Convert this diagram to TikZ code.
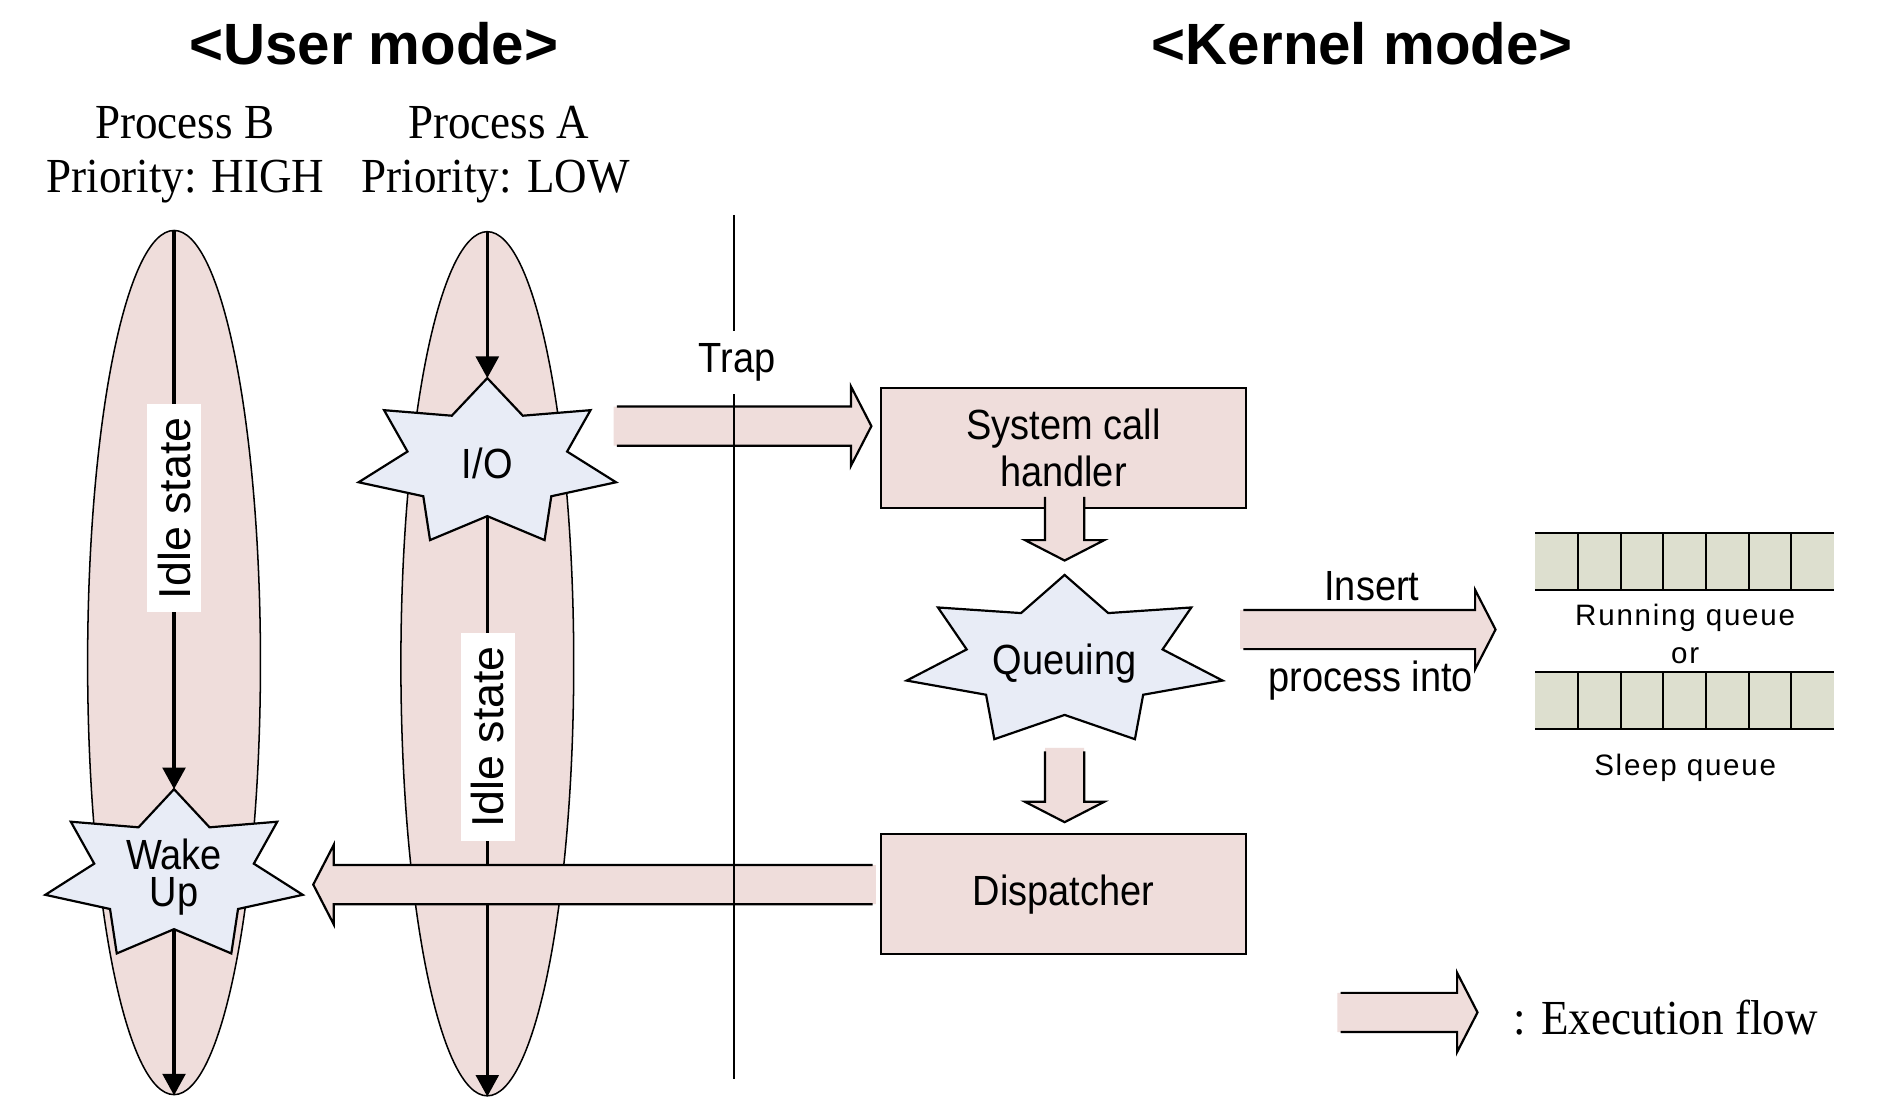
\documentclass[tikz,border=0pt]{standalone}
\usepackage{fontspec}
\setmainfont{Liberation Sans}
\newfontfamily\lblfont{Liberation Sans}[FakeStretch=0.9]
\newfontfamily\plainsans{Liberation Sans}
\newfontfamily\tmfont{Liberation Serif}[FakeStretch=0.92]
\newfontfamily\qfont{Liberation Sans}[LetterSpace=6]
\newfontfamily\ttlfont{Liberation Sans}
\usetikzlibrary{shapes.geometric,arrows.meta,calc}
\definecolor{flowpink}{RGB}{239,221,219}
\definecolor{starblue}{RGB}{232,236,246}
\definecolor{qgreen}{RGB}{221,223,207}
\newcommand\pxu{0.025cm}
% block arrow (execution flow) from #1 (open tail) to #2 (tip)
\newcommand\flowarrow[2]{%
  \fill[flowpink] let \p1=(#1), \p2=(#2), \n1={atan2(\y2-\y1,\x2-\x1)}, \n2={veclen(\x2-\x1,\y2-\y1)} in
    {[shift={(\p1)}, rotate=\n1]
     (-2pt,-11.6pt) -- (\n2-12.1pt,-11.6pt) -- (\n2-12.1pt,-23.5pt) -- (\n2+0pt,0pt)
     -- (\n2-12.1pt,23.5pt) -- (\n2-12.1pt,11.6pt) -- (-2pt,11.6pt) -- cycle};
  \draw[blockline] let \p1=(#1), \p2=(#2), \n1={atan2(\y2-\y1,\x2-\x1)}, \n2={veclen(\x2-\x1,\y2-\y1)} in
    {[shift={(\p1)}, rotate=\n1]
     (0pt,-11.6pt) -- (\n2-12.1pt,-11.6pt) -- (\n2-12.1pt,-23.5pt) -- (\n2+0pt,0pt)
     -- (\n2-12.1pt,23.5pt) -- (\n2-12.1pt,11.6pt) -- (0pt,11.6pt)};
}
% seven-pointed star: centre x, centre y, radius x, radius y
\newcommand\drawstar[4]{%
  \draw[starstyle] plot[samples at={0,...,13}, variable=\k]
    ({#1+(1-0.38*mod(\k,2))*#3*cos(90+\k*360/14)}, {#2-(1-0.38*mod(\k,2))*#4*sin(90+\k*360/14)}) -- cycle;
}
\begin{document}
\begin{tikzpicture}[x=0.025cm, y=-0.025cm,
  lbl/.style={font=\lblfont\fontsize{25pt}{28pt}\selectfont, inner sep=0pt},
  tlbl/.style={font=\tmfont\fontsize{29pt}{33pt}\selectfont, inner sep=0pt},
  ttl/.style={font=\ttlfont\bfseries\fontsize{34.5pt}{40pt}\selectfont, inner sep=0pt},
  qlbl/.style={font=\qfont\fontsize{17.5pt}{20pt}\selectfont, inner sep=0pt},
  ellproc/.style={ellipse, draw, fill=flowpink, line width=0.9pt, inner sep=0pt,
    minimum width=144*\pxu, minimum height=720*\pxu},
  procline/.style={line width=1.9pt, -{Triangle[length=12.8pt,width=13.5pt]}},
  idlebox/.style={rotate=90, fill=white, inner sep=0pt, minimum width=173*\pxu,
    minimum height=45*\pxu, font=\plainsans\fontsize{26.5pt}{30pt}\selectfont},
  starstyle/.style={draw, fill=starblue, line width=1.3pt, line join=miter},
  procbox/.style={rectangle, draw, fill=flowpink, line width=1.2pt, inner sep=0pt,
    minimum width=304*\pxu, minimum height=100*\pxu, align=center,
    font=\lblfont\fontsize{25pt}{27.7pt}\selectfont},
  blockline/.style={draw, line width=1.3pt, line join=miter},
  qrow/.style={rectangle, fill=qgreen, inner sep=0pt, outer sep=0pt,
    minimum width=249*\pxu, minimum height=47.5*\pxu},
  qline/.style={line width=1.2pt},
  sepline/.style={line width=1.2pt}
]
\useasboundingbox (0,0) rectangle (1568,915);
\fill[white] (0,0) rectangle (1568,915);

% titles
\node[ttl, anchor=base] (usermode) at (311.5,54) {<User mode>};
\node[ttl, anchor=base] (kernelmode) at (1135,54) {<Kernel mode>};
\node[tlbl, anchor=base] (procB) at (154,115) {Process B};
\node[tlbl, anchor=base] (prioB) at (154.5,160.5) {Priority: HIGH};
\node[tlbl, anchor=base] (procA) at (415.5,115) {Process A};
\node[tlbl, anchor=base] (prioA) at (413,160.5) {Priority: LOW};

% process ellipses
\node[ellproc] (ellB) at (145,552) {};
\node[ellproc] (ellA) at (406,553) {};
\coordinate (wakeC) at (145,729.5);
\coordinate (ioC) at (406,386);
\coordinate (wakeTop) at (145,657.5);
\coordinate (ioTop) at (406,315);
\draw[procline] (ellB.north) -- (wakeTop);
\draw[procline] (wakeC) -- (ellB.south);
\draw[procline] (ellA.north) -- (ioTop);
\draw[procline] (ioC) -- (ellA.south);
\node[idlebox] (idleB) at (145,423.5) {Idle state};
\node[idlebox] (idleA) at (406.5,614) {Idle state};

% stars
\drawstar{406}{386}{110}{71}
\drawstar{145}{729.5}{110}{72}
\drawstar{887}{551}{135}{72}
\node[lbl] (io) at (ioC) {I/O};
\node[lbl, align=center, font=\lblfont\fontsize{25pt}{22pt}\selectfont] (wake) at (145,731) {Wake\\Up};
\node[lbl] (queuing) at (887,553) {Queuing};

% kernel boxes
\node[procbox] (handler) at (886,373) {System call\\handler};
\node[procbox] (dispatch) at (886,745) {Dispatcher};

% execution flow arrows
\coordinate (trapS) at (514,355);
\coordinate (trapE) at (726,355);
\flowarrow{trapS}{trapE}
\coordinate (wkS) at (727,737);
\coordinate (wkE) at (261,737);
\flowarrow{wkS}{wkE}
\coordinate (d1S) at (887,414);
\coordinate (d1E) at (887,467);
\flowarrow{d1S}{d1E}
\coordinate (d2S) at (887,626);
\coordinate (d2E) at (887,685);
\flowarrow{d2S}{d2E}
\coordinate (insS) at (1036,524.5);
\coordinate (insE) at (1246,524.5);
\flowarrow{insS}{insE}
\node[lbl, anchor=base] (insert) at (1143,500) {Insert};
\node[lbl, anchor=base] (procinto) at (1142,576) {process into};

% queues
\node[qrow] (runq) at (1403.5,467.5) {};
\node[qrow] (sleepq) at (1403.5,584) {};
\foreach \q in {runq,sleepq}{
  \draw[qline] (\q.north west) -- (\q.north east) (\q.south west) -- (\q.south east);
  \foreach \i in {1,...,6}
    \draw[qline] ($(\q.north west)!\i/7!(\q.north east)$) -- ($(\q.south west)!\i/7!(\q.south east)$);
}
\node[qlbl, anchor=base] (runlbl) at (1404,521) {Running queue};
\node[qlbl, anchor=base] (orlbl) at (1404,552.5) {or};
\node[qlbl, anchor=base] (sleeplbl) at (1404,646) {Sleep queue};

% user/kernel separator
\coordinate (sepTop) at (611.5,179);
\coordinate (sepBot) at (611.5,899);
\node[lbl, anchor=base, inner ysep=7.5pt] (trap) at (614,310.5) {Trap};
\draw[sepline] (sepTop) -- (sepTop |- trap.north);
\draw[sepline] (sepTop |- trap.south) -- (sepBot);

% legend
\coordinate (legS) at (1117,843.5);
\coordinate (legE) at (1231,843.5);
\flowarrow{legS}{legE}
\node[tlbl, anchor=base west] (legtxt) at (1261,862) {: Execution flow};
\end{tikzpicture}
\end{document}
